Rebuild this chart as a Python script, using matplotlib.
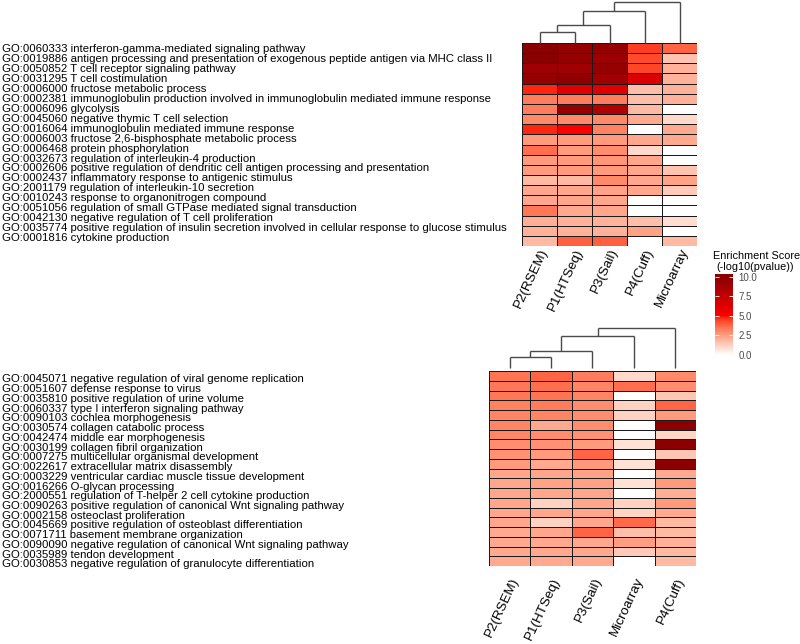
import numpy as np
import matplotlib
matplotlib.use("Agg")
import matplotlib.pyplot as plt
from matplotlib.colors import ListedColormap

# ---------------- data ----------------
top_terms = [
    "GO:0060333 interferon-gamma-mediated signaling pathway",
    "GO:0019886 antigen processing and presentation of exogenous peptide antigen via MHC class II",
    "GO:0050852 T cell receptor signaling pathway",
    "GO:0031295 T cell costimulation",
    "GO:0006000 fructose metabolic process",
    "GO:0002381 immunoglobulin production involved in immunoglobulin mediated immune response",
    "GO:0006096 glycolysis",
    "GO:0045060 negative thymic T cell selection",
    "GO:0016064 immunoglobulin mediated immune response",
    "GO:0006003 fructose 2,6-bisphosphate metabolic process",
    "GO:0006468 protein phosphorylation",
    "GO:0032673 regulation of interleukin-4 production",
    "GO:0002606 positive regulation of dendritic cell antigen processing and presentation",
    "GO:0002437 inflammatory response to antigenic stimulus",
    "GO:2001179 regulation of interleukin-10 secretion",
    "GO:0010243 response to organonitrogen compound",
    "GO:0051056 regulation of small GTPase mediated signal transduction",
    "GO:0042130 negative regulation of T cell proliferation",
    "GO:0035774 positive regulation of insulin secretion involved in cellular response to glucose stimulus",
    "GO:0001816 cytokine production",
]
top_cols = ["P2(RSEM)", "P1(HTSeq)", "P3(Sail)", "P4(Cuff)", "Microarray"]
top_values = [
    [10.0, 9.5, 9.5, 4.5, 3.8],
    [10.0, 9.5, 9.2, 4.3, 1.6],
    [9.0, 9.0, 9.5, 4.4, 2.0],
    [9.5, 9.7, 9.0, 6.5, 2.0],
    [4.8, 6.3, 6.3, 1.7, 2.0],
    [3.3, 3.3, 3.3, 1.7, 2.0],
    [3.3, 9.5, 8.3, 1.8, 0.0],
    [3.0, 3.0, 3.0, 2.2, 1.0],
    [4.8, 5.2, 3.2, 0.0, 2.2],
    [2.6, 2.6, 2.6, 2.3, 2.2],
    [3.6, 2.6, 2.9, 1.0, 0.0],
    [2.6, 2.6, 2.7, 2.3, 0.0],
    [2.6, 2.6, 2.6, 2.3, 1.6],
    [1.8, 1.8, 3.0, 2.3, 2.4],
    [2.3, 2.3, 2.4, 2.3, 1.4],
    [2.3, 2.3, 2.3, 0.0, 0.0],
    [3.4, 2.2, 2.3, 0.0, 0.0],
    [2.1, 2.0, 2.0, 1.7, 0.9],
    [2.0, 2.0, 2.0, 2.4, 0.0],
    [1.8, 3.9, 3.9, 0.0, 1.8],
]
# dendrogram merges: (left, right, height); leaves 0..4, new nodes 5..
top_merges = [(0, 1, 11.3), (5, 2, 18.0), (6, 3, 31.3), (7, 4, 40.3)]

bottom_terms = [
    "GO:0045071 negative regulation of viral genome replication",
    "GO:0051607 defense response to virus",
    "GO:0035810 positive regulation of urine volume",
    "GO:0060337 type I interferon signaling pathway",
    "GO:0090103 cochlea morphogenesis",
    "GO:0030574 collagen catabolic process",
    "GO:0042474 middle ear morphogenesis",
    "GO:0030199 collagen fibril organization",
    "GO:0007275 multicellular organismal development",
    "GO:0022617 extracellular matrix disassembly",
    "GO:0003229 ventricular cardiac muscle tissue development",
    "GO:0016266 O-glycan processing",
    "GO:2000551 regulation of T-helper 2 cell cytokine production",
    "GO:0090263 positive regulation of canonical Wnt signaling pathway",
    "GO:0002158 osteoclast proliferation",
    "GO:0045669 positive regulation of osteoblast differentiation",
    "GO:0071711 basement membrane organization",
    "GO:0090090 negative regulation of canonical Wnt signaling pathway",
    "GO:0035989 tendon development",
    "GO:0030853 negative regulation of granulocyte differentiation",
]
bottom_cols = ["P2(RSEM)", "P1(HTSeq)", "P3(Sail)", "Microarray", "P4(Cuff)"]
bottom_values = [
    [3.5, 3.8, 3.3, 1.0, 3.0],
    [3.4, 3.6, 3.1, 3.6, 2.9],
    [3.4, 3.5, 3.1, 0.0, 1.5],
    [3.2, 3.3, 2.9, 1.2, 3.8],
    [3.1, 3.1, 2.9, 1.2, 2.6],
    [3.1, 2.2, 2.9, 0.0, 10.0],
    [3.1, 2.9, 2.8, 0.0, 1.1],
    [2.9, 2.8, 2.6, 0.8, 10.0],
    [2.8, 2.6, 3.8, 0.0, 1.5],
    [2.6, 2.2, 2.6, 0.8, 10.0],
    [2.3, 2.3, 2.4, 0.0, 2.2],
    [2.3, 2.4, 2.4, 0.8, 2.6],
    [2.3, 2.3, 2.3, 0.0, 2.1],
    [2.3, 1.2, 2.3, 1.2, 2.6],
    [2.3, 2.3, 2.3, 1.1, 2.2],
    [2.3, 1.2, 2.3, 3.7, 1.8],
    [2.2, 2.3, 3.8, 1.7, 1.8],
    [2.2, 2.2, 2.2, 2.5, 2.0],
    [2.2, 2.2, 2.2, 1.4, 1.8],
    [2.2, 2.2, 2.2, 0.0, 1.8],
]
bottom_merges = [(0, 1, 10.7), (5, 2, 17.3), (6, 3, 32.0), (7, 4, 40.0)]

cbar_ticks = [0.0, 2.5, 5.0, 7.5, 10.0]
vmin, vmax = 0.0, 10.0

# ---------------- colour map (Lab interpolation white -> red -> darkred) ----------------
WHITE = np.array([0.95047, 1.0, 1.08883])
M = np.array([[0.4124, 0.3576, 0.1805], [0.2126, 0.7152, 0.0722], [0.0193, 0.1192, 0.9505]])
Minv = np.linalg.inv(M)


def rgb2lab(rgb):
    c = np.asarray(rgb, float)
    lin = np.where(c <= 0.04045, c / 12.92, ((c + 0.055) / 1.055) ** 2.4)
    xyz = M @ lin / WHITE
    f = np.where(xyz > 0.008856, np.cbrt(xyz), 7.787 * xyz + 16 / 116)
    return np.array([116 * f[1] - 16, 500 * (f[0] - f[1]), 200 * (f[1] - f[2])])


def lab2rgb(lab):
    L, a, b = lab
    fy = (L + 16) / 116
    fx = fy + a / 500
    fz = fy - b / 200
    f = np.array([fx, fy, fz])
    xyz = np.where(f ** 3 > 0.008856, f ** 3, (f - 16 / 116) / 7.787) * WHITE
    lin = np.clip(Minv @ xyz, 0, 1)
    c = np.where(lin <= 0.0031308, 12.92 * lin, 1.055 * lin ** (1 / 2.4) - 0.055)
    return np.clip(c, 0, 1)


stops = [(0.0, (1, 1, 1)), (0.5, (1, 0, 0)), (1.0, (139 / 255, 0, 0))]
cols = []
for t in np.linspace(0, 1, 256):
    for (t0, c0), (t1, c1) in zip(stops[:-1], stops[1:]):
        if t0 <= t <= t1:
            u = (t - t0) / (t1 - t0)
            lab = rgb2lab(c0) * (1 - u) + rgb2lab(c1) * u
            cols.append(lab2rgb(lab))
            break
cmap = ListedColormap(np.array(cols))

# ---------------- figure ----------------
W, H = 800, 644
fig = plt.figure(figsize=(W / 100, H / 100), dpi=100)
FONT = "Liberation Sans"


def ax_px(x0, y0, x1, y1):
    return fig.add_axes([x0 / W, 1 - y1 / H, (x1 - x0) / W, (y1 - y0) / H])


def draw_heatmap(box, values):
    ax = ax_px(*box)
    data = np.array(values)
    ax.pcolormesh(data, cmap=cmap, vmin=vmin, vmax=vmax,
                  edgecolors="#1a1a1a", linewidth=0.6)
    ax.set_xlim(0, data.shape[1])
    ax.set_ylim(data.shape[0], 0)
    ax.axis("off")
    return ax


def draw_dendro(box, merges, n, top):
    ax = ax_px(*box)
    xs = {i: i + 0.5 for i in range(n)}
    hs = {i: 0.0 for i in range(n)}
    for k, (a, b, h) in enumerate(merges):
        node = n + k
        for c in (a, b):
            ax.plot([xs[c], xs[c]], [hs[c], h], color="#4a4a4a", lw=1.0,
                    clip_on=False, solid_capstyle="butt")
        ax.plot([xs[a], xs[b]], [h, h], color="#4a4a4a", lw=1.0,
                clip_on=False, solid_capstyle="butt")
        xs[node] = (xs[a] + xs[b]) / 2
        hs[node] = h
    ax.set_xlim(0, n)
    ax.set_ylim(0, top)
    ax.axis("off")


def draw_row_labels(terms, base0, step):
    for i, t in enumerate(terms):
        fig.text(2 / W, 1 - (base0 + i * step) / H, t, ha="left", va="baseline",
                 fontsize=8.2, family=FONT, color="black")


def draw_col_labels(cols_, x0, x1, y, dx):
    w = (x1 - x0) / len(cols_)
    for i, c in enumerate(cols_):
        cx = x0 + (i + 0.5) * w + dx
        fig.text(cx / W, 1 - y / H, c, rotation=65, rotation_mode="anchor",
                 ha="right", va="center", fontsize=9.6, family=FONT, color="black")


# top block
draw_heatmap((522, 43, 697, 246), top_values)
draw_dendro((522, 2, 697, 43), top_merges, 5, 40.6)
draw_row_labels(top_terms, 52.4, 9.92)
draw_col_labels(top_cols, 522, 697, 249, 5.5)

# bottom block
draw_heatmap((489, 371, 696, 566), bottom_values)
draw_dendro((489, 328, 696, 368), bottom_merges, 5, 40.0)
draw_row_labels(bottom_terms, 382.4, 9.74)
draw_col_labels(bottom_cols, 489, 696, 578, 6.0)

# colour bar
cax = ax_px(715, 274, 733, 355)
top_val = 10.35
grad = np.linspace(0, top_val, 300).reshape(-1, 1)
cax.imshow(grad, aspect="auto", cmap=cmap, vmin=vmin, vmax=vmax,
           extent=[0, 1, 0, top_val], origin="lower")
cax.set_xlim(0, 1)
cax.set_ylim(0, top_val)
for s in cax.spines.values():
    s.set_visible(False)
cax.set_xticks([])
cax.yaxis.tick_right()
cax.set_yticks(cbar_ticks)
cax.set_yticklabels([f"{v:.1f}" for v in cbar_ticks], fontsize=7.0,
                    family=FONT, color="#4d4d4d")
cax.tick_params(axis="y", length=0, pad=3.8)
cax.hlines(cbar_ticks, 0, 0.2, color="white", lw=0.6)
cax.hlines(cbar_ticks, 0.8, 1.0, color="white", lw=0.6)
fig.text(757 / W, 1 - 256 / H, "Enrichment Score", ha="center", va="center",
         fontsize=7.8, family=FONT, color="black")
fig.text(755 / W, 1 - 266.5 / H, "(-log10(pvalue))", ha="center", va="center",
         fontsize=7.8, family=FONT, color="black")

fig.savefig("out.png", dpi=100)
